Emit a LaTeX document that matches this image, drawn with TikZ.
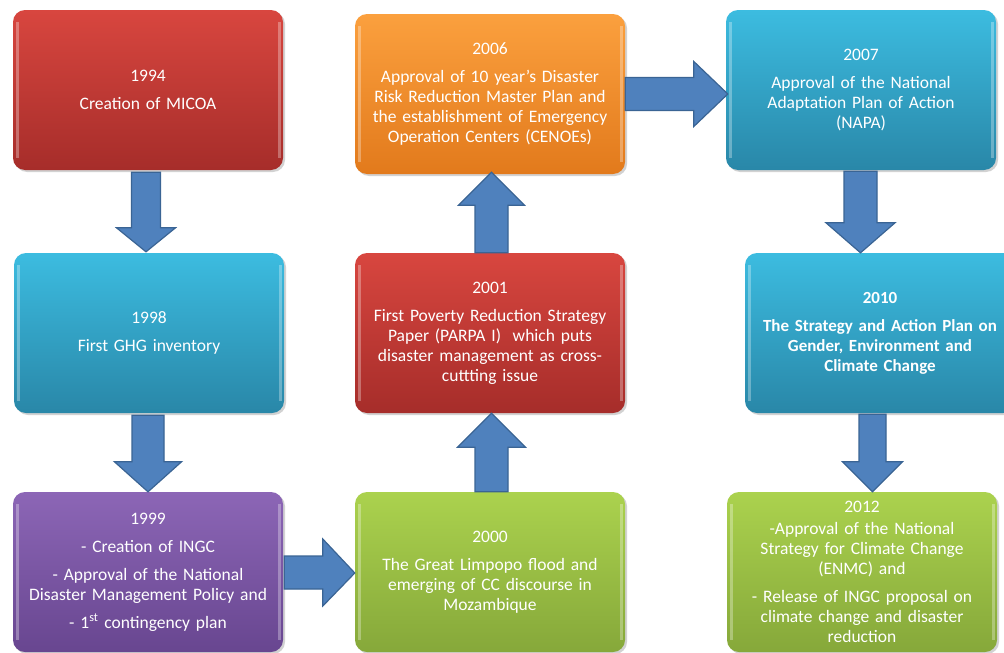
\documentclass[tikz,border=0pt]{standalone}
\usepackage{fontspec}
\setmainfont{Carlito}
\usetikzlibrary{calc,shadows}
\definecolor{redT}{HTML}{D8463F}
\definecolor{redB}{HTML}{A62D2A}
\definecolor{tealT}{HTML}{3CBCE0}
\definecolor{tealB}{HTML}{2987A8}
\definecolor{purT}{HTML}{8C66B6}
\definecolor{purB}{HTML}{684690}
\definecolor{orT}{HTML}{FBA03E}
\definecolor{orB}{HTML}{E27A1C}
\definecolor{grT}{HTML}{ABD24E}
\definecolor{grB}{HTML}{86A83A}
\definecolor{arrFill}{HTML}{4F81BD}
\definecolor{arrLine}{HTML}{3A6494}
\tikzset{
  evbox/.style={rectangle, rounded corners=12pt, minimum width=270pt, minimum height=160pt,
    text width=266pt, align=center, text=white, inner sep=0pt,
    font=\fontsize{17.5}{20}\selectfont,
    drop shadow={opacity=0.35, shadow xshift=2pt, shadow yshift=-2pt},
    path picture={
      \draw[white, opacity=0.3, line width=3pt]
        ([xshift=4pt,yshift=-12pt]path picture bounding box.north west) --
        ([xshift=4pt,yshift=12pt]path picture bounding box.south west);
      \draw[white, opacity=0.3, line width=3pt]
        ([xshift=-4pt,yshift=-12pt]path picture bounding box.north east) --
        ([xshift=-4pt,yshift=12pt]path picture bounding box.south east);
    }},
  redbox/.style={evbox, top color=redT, bottom color=redB},
  tealbox/.style={evbox, top color=tealT, bottom color=tealB},
  purbox/.style={evbox, top color=purT, bottom color=purB},
  orbox/.style={evbox, top color=orT, bottom color=orB},
  grbox/.style={evbox, top color=grT, bottom color=grB},
  barrow/.style={fill=arrFill, draw=arrLine, line width=1.2pt, line join=miter},
}
\begin{document}
\begin{tikzpicture}[x=1pt,y=-1pt]
\useasboundingbox (0,0) rectangle (1004,653);
\clip (0,0) rectangle (1004,653);
\fill[white] (0,0) rectangle (1004,653);

% boxes
\node[redbox] (b1994) at (148,90) {1994\\[8pt]Creation of MICOA};
\node[tealbox] (b1998) at (149,333) {1998\\[8pt]First GHG inventory};
\node[purbox] (b1999) at (148,572) {1999\\[8pt]- Creation of INGC\\[8pt]- Approval of the National\\Disaster Management Policy and\\[8pt]- 1\textsuperscript{st} contingency plan};
\node[orbox] (b2006) at (490,94) {2006\\[8pt]Approval of 10 year's Disaster\\Risk Reduction Master Plan and\\the establishment of Emergency\\Operation Centers (CENOEs)};
\node[redbox] (b2001) at (490,333) {2001\\[8pt]First Poverty Reduction Strategy\\Paper (PARPA I)\ \ which puts\\disaster management as cross-\\cuttting issue};
\node[grbox] (b2000) at (490,572) {2000\\[8pt]The Great Limpopo flood and\\emerging of CC discourse in\\Mozambique};
\node[tealbox] (b2007) at (861,90) {2007\\[8pt]Approval of the National\\Adaptation Plan of Action\\(NAPA)};
\node[tealbox, font=\bfseries\fontsize{17}{20}\selectfont] (b2010) at (880,333) {2010\\[8pt]The Strategy and Action Plan on\\Gender, Environment and\\Climate Change};
\node[grbox] (b2012) at (862,572) {2012\\[2pt]-Approval of the National\\Strategy for Climate Change\\(ENMC) and\\[8pt]- Release of INGC proposal on\\climate change and disaster\\reduction};

% down arrows
\path[barrow] let \p1=(b1994.south), \p2=(b1998.north) in
  (\x1-2pt-14.5pt,\y1-2pt) -- (\x1-2pt+14.5pt,\y1-2pt) -- (\x1-2pt+14.5pt,\y2+25pt) -- (\x1-2pt+29.5pt,\y2+25pt)
  -- (\x1-2pt,\y2+1pt) -- (\x1-2pt-29.5pt,\y2+25pt) -- (\x1-2pt-14.5pt,\y2+25pt) -- cycle;
\path[barrow] let \p1=(b1998.south), \p2=(b1999.north) in
  (\x1-1pt-16pt,\y1-2pt) -- (\x1-1pt+16pt,\y1-2pt) -- (\x1-1pt+16pt,\y2+30pt) -- (\x1-1pt+33.5pt,\y2+30pt)
  -- (\x1-1pt,\y2) -- (\x1-1pt-33.5pt,\y2+30pt) -- (\x1-1pt-16pt,\y2+30pt) -- cycle;
\path[barrow] let \p1=(b2007.south), \p2=(b2010.north) in
  (\x1-0.5pt-16.5pt,\y1-1pt) -- (\x1-0.5pt+16.5pt,\y1-1pt) -- (\x1-0.5pt+16.5pt,\y2+30pt) -- (\x1-0.5pt+34.5pt,\y2+30pt)
  -- (\x1-0.5pt,\y2) -- (\x1-0.5pt-34.5pt,\y2+30pt) -- (\x1-0.5pt-16.5pt,\y2+30pt) -- cycle;
\path[barrow] let \p1=(b2010.south), \p2=(b2012.north) in
  (\x1-7.5pt-13.5pt,\y1-1pt) -- (\x1-7.5pt+13.5pt,\y1-1pt) -- (\x1-7.5pt+13.5pt,\y2+30pt) -- (\x1-7.5pt+30pt,\y2+30pt)
  -- (\x1-7.5pt,\y2) -- (\x1-7.5pt-30pt,\y2+30pt) -- (\x1-7.5pt-13.5pt,\y2+30pt) -- cycle;

% up arrows
\path[barrow] let \p1=(b2000.north), \p2=(b2001.south) in
  (\x1+1.5pt-16.5pt,\y1) -- (\x1+1.5pt+16.5pt,\y1) -- (\x1+1.5pt+16.5pt,\y2-34pt) -- (\x1+1.5pt+34pt,\y2-34pt)
  -- (\x1+1.5pt,\y2) -- (\x1+1.5pt-34pt,\y2-34pt) -- (\x1+1.5pt-16.5pt,\y2-34pt) -- cycle;
\path[barrow] let \p1=(b2001.north), \p2=(b2006.south) in
  (\x1+1.5pt-16.5pt,\y1) -- (\x1+1.5pt+16.5pt,\y1) -- (\x1+1.5pt+16.5pt,\y2-31pt) -- (\x1+1.5pt+33pt,\y2-31pt)
  -- (\x1+1.5pt,\y2+2pt) -- (\x1+1.5pt-33pt,\y2-31pt) -- (\x1+1.5pt-16.5pt,\y2-31pt) -- cycle;

% right arrows
\path[barrow] let \p1=(b1999.east), \p2=(b2000.west) in
  (\x1+1pt,\y1+16pt) -- (\x2-32pt,\y1+16pt) -- (\x2-32pt,\y1+33pt) -- (\x2,\y1-1pt)
  -- (\x2-32pt,\y1-34pt) -- (\x2-32pt,\y1-17pt) -- (\x1+1pt,\y1-17pt) -- cycle;
\path[barrow] let \p1=(b2006.east), \p2=(b2007.west) in
  (\x1,\y1+16.5pt) -- (\x2-32pt,\y1+16.5pt) -- (\x2-32pt,\y1+32.5pt) -- (\x2+2pt,\y1)
  -- (\x2-32pt,\y1-32.5pt) -- (\x2-32pt,\y1-16.5pt) -- (\x1,\y1-16.5pt) -- cycle;
\end{tikzpicture}
\end{document}
